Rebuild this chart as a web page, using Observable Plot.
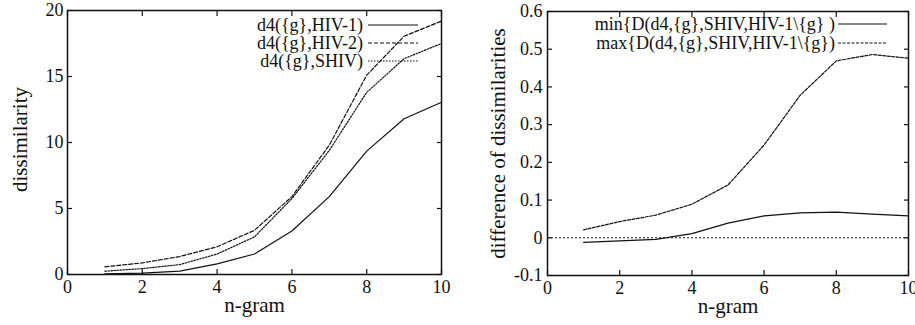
<!DOCTYPE html>
<html><head><meta charset="utf-8">
<script src="https://cdn.jsdelivr.net/npm/d3@7"></script>
<script src="https://cdn.jsdelivr.net/npm/@observablehq/plot@0.6"></script>
<style>
body{margin:0;background:#fff;}
#wrap{display:flex;width:915px;height:325px;overflow:hidden;}
#wrap svg{flex:none;}
</style></head><body><div id="wrap"></div>
<script>
const ngram = [1,2,3,4,5,6,7,8,9,10];
const hiv1 = [0.05,0.1,0.25,0.8,1.55,3.3,5.9,9.35,11.8,13.05];
const hiv2 = [0.58,0.88,1.36,2.1,3.35,5.9,9.8,15.1,18.05,19.2];
const shiv = [0.25,0.45,0.75,1.55,2.85,5.75,9.4,13.8,16.35,17.5];
const minDiff = [-0.012,-0.008,-0.004,0.011,0.039,0.058,0.066,0.068,0.063,0.058];
const maxDiff = [0.021,0.043,0.06,0.089,0.14,0.246,0.378,0.469,0.486,0.476];
const xTicks = [0,2,4,6,8,10];
const yTicksLeft = [0,5,10,15,20];
const yTicksRight = [-0.1,0,0.1,0.2,0.3,0.4,0.5,0.6];
const seriesLeft = ["d4({g},HIV-1)","d4({g},HIV-2)","d4({g},SHIV)"];
const seriesRight = ["min{D(d4,{g},SHIV,HIV-1\\{g} )","max{D(d4,{g},SHIV,HIV-1\\{g})"];

const INK = "#111";
const dashLeft = [null, "4,2", "1.5,1.5"];
const dashRight = [null, "3,1.5"];

function rows(vals){ return ngram.map((n,i)=>({n, v: vals[i]})); }

function legend(labels, dashes, {right, top, step, len, gap}) {
  return (index, scales, values, dims) => {
    const g = d3.create("svg:g");
    const x2 = dims.width - dims.marginRight - right;
    const x1 = x2 - len;
    labels.forEach((lab, i) => {
      const y = dims.marginTop + top + i * step;
      g.append("line").attr("x1", x1).attr("x2", x2).attr("y1", y).attr("y2", y)
        .attr("stroke", INK).attr("stroke-width", 1.2)
        .attr("stroke-dasharray", dashes[i]);
      g.append("text").attr("x", x1 - gap).attr("y", y).attr("dy", "0.35em")
        .attr("text-anchor", "end").attr("fill", INK).attr("font-size", 18).text(lab);
    });
    return g.node();
  };
}

function tickAxes(xt, yt) {
  return [
    Plot.axisX(xt, {anchor: "bottom", tickSize: -5, fill: "none", label: null, strokeWidth: 1.2}),
    Plot.axisX(xt, {anchor: "top", tickSize: -5, fill: "none", label: null, strokeWidth: 1.2}),
    Plot.axisY(yt, {anchor: "left", tickSize: -5, fill: "none", label: null, strokeWidth: 1.2}),
    Plot.axisY(yt, {anchor: "right", tickSize: -5, fill: "none", label: null, strokeWidth: 1.2})
  ];
}

const common = {
  height: 325,
  style: {fontFamily: "'Liberation Serif', 'DejaVu Serif', serif", fontSize: "18px", color: INK, background: "#fff"}
};

const left = Plot.plot({
  ...common,
  width: 455,
  marginLeft: 67, marginRight: 14, marginTop: 10, marginBottom: 51,
  x: {domain: [0, 10]},
  y: {domain: [0, 20]},
  marks: [
    Plot.axisX(xTicks, {anchor: "bottom", tickSize: 0, tickPadding: 6, label: null, fontSize: 18}),
    Plot.axisY(yTicksLeft, {anchor: "left", tickSize: 0, tickPadding: 4, label: null, fontSize: 18}),
    ...tickAxes(xTicks, yTicksLeft),
    Plot.line(rows(hiv1), {x: "n", y: "v", stroke: INK, strokeWidth: 1.2}),
    Plot.line(rows(hiv2), {x: "n", y: "v", stroke: INK, strokeWidth: 1.2, strokeDasharray: dashLeft[1]}),
    Plot.line(rows(shiv), {x: "n", y: "v", stroke: INK, strokeWidth: 1.2, strokeDasharray: dashLeft[2]}),
    Plot.frame({stroke: INK, strokeWidth: 1.5}),
    Plot.text(["n-gram"], {frameAnchor: "bottom", dy: 37, fontSize: 21, fill: INK}),
    Plot.text(["dissimilarity"], {frameAnchor: "left", textAnchor: "middle", dx: -47, dy: -3, rotate: -90, fontSize: 21, fill: INK}),
    legend(seriesLeft, dashLeft, {right: 23, top: 15, step: 18, len: 50, gap: 5})
  ]
});

const fmt = d => d === 0 ? "0" : d.toFixed(1);

const right = Plot.plot({
  ...common,
  width: 460,
  marginLeft: 92, marginRight: 7, marginTop: 11, marginBottom: 50,
  x: {domain: [0, 10]},
  y: {domain: [-0.1, 0.6]},
  marks: [
    Plot.axisX(xTicks, {anchor: "bottom", tickSize: 0, tickPadding: 6, label: null, fontSize: 18}),
    Plot.axisY(yTicksRight, {anchor: "left", tickSize: 0, tickPadding: 5, label: null, fontSize: 18, tickFormat: fmt}),
    ...tickAxes(xTicks, yTicksRight),
    Plot.ruleY([0], {stroke: INK, strokeWidth: 1, strokeDasharray: "2,2"}),
    Plot.line(rows(minDiff), {x: "n", y: "v", stroke: INK, strokeWidth: 1.2}),
    Plot.line(rows(maxDiff), {x: "n", y: "v", stroke: INK, strokeWidth: 1.2, strokeDasharray: dashRight[1]}),
    Plot.frame({stroke: INK, strokeWidth: 1.5}),
    Plot.text(["n-gram"], {frameAnchor: "bottom", dy: 37, fontSize: 21, fill: INK}),
    Plot.text(["difference of dissimilarities"], {frameAnchor: "left", textAnchor: "middle", dx: -49, rotate: -90, fontSize: 21, fill: INK}),
    legend(seriesRight, dashRight, {right: 21, top: 13, step: 19, len: 49, gap: 3})
  ]
});

document.getElementById("wrap").append(left, right);
</script></body></html>
